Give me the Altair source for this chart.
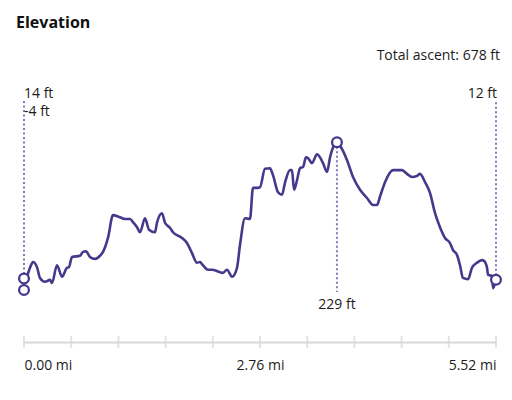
import altair as alt
import pandas as pd

# Elevation profile: distance along the route (mi) and elevation (ft)
DIST = [0.00, 0.035, 0.07, 0.105, 0.152, 0.187, 0.246, 0.304, 0.327, 0.386,
        0.444, 0.503, 0.526, 0.561, 0.655, 0.690, 0.725, 0.772, 0.830, 0.889,
        0.924, 0.982, 1.041, 1.099, 1.181, 1.240, 1.275, 1.322, 1.357, 1.415,
        1.462, 1.532, 1.555, 1.614, 1.649, 1.707, 1.743, 1.848, 1.906, 1.965,
        2.023, 2.058, 2.093, 2.152, 2.199, 2.292, 2.327, 2.374, 2.433, 2.491,
        2.526, 2.585, 2.643, 2.678, 2.725, 2.760, 2.818, 2.877, 2.912, 2.971,
        3.017, 3.052, 3.111, 3.134, 3.158, 3.193, 3.228, 3.263, 3.298, 3.321,
        3.368, 3.427, 3.462, 3.497, 3.544, 3.579, 3.660, 3.707, 3.777, 3.848,
        3.930, 4.011, 4.082, 4.128, 4.163, 4.222, 4.316, 4.421, 4.479, 4.538,
        4.596, 4.631, 4.690, 4.748, 4.807, 4.865, 4.924, 4.982, 5.017, 5.064,
        5.099, 5.134, 5.193, 5.239, 5.298, 5.356, 5.380, 5.415, 5.427, 5.473,
        5.485, 5.52]
ELEV = [14, 18, 31, 40, 32, 15, 9, 12, 7, 35,
        17, 31, 32, 48, 50, 56, 57, 48, 45, 50,
        56, 78, 114, 112, 108, 108, 103, 95, 87, 109,
        91, 87, 102, 117, 102, 94, 87, 78, 70, 54,
        39, 40, 35, 28, 28, 24, 23, 28, 17, 31,
        67, 109, 108, 157, 157, 158, 187, 188, 177, 150,
        146, 165, 185, 185, 154, 169, 188, 190, 205, 204,
        196, 210, 205, 196, 182, 205, 229, 221, 201, 174,
        154, 141, 130, 130, 143, 166, 185, 185, 179, 174,
        176, 179, 166, 149, 117, 95, 78, 70, 59, 51,
        35, 15, 13, 31, 39, 43, 42, 31, 20, 18,
        -1, 12]

# Highlighted points: start, minimum, maximum, end
MARK_NAMES = ["start", "min", "max", "end"]
MARK_DIST = [0.0, 0.0, 3.66, 5.52]
MARK_ELEV = [14, -4, 229, 12]

TITLE = "Elevation"
TOTAL_ASCENT = 678
ROUTE_LENGTH = 5.52
AXIS_LABELS = [0.0, 2.76, 5.52]
TICK_MILES = [0.0, 0.552, 1.104, 1.656, 2.208, 2.76, 3.312, 3.864, 4.416, 4.968, 5.52]

LINE = "#45398c"
DOTS = "#8478bd"
AXIS = "#dad7d4"
INK = "#1c1c1c"
FONT = "Open Sans"
FS = 14

profile = pd.DataFrame({"mi": DIST, "ft": ELEV})
marks = pd.DataFrame({"name": MARK_NAMES, "mi": MARK_DIST, "ft": MARK_ELEV})
marks["label"] = marks["ft"].astype(str) + " ft"
ticks = pd.DataFrame({"mi": TICK_MILES})

x_scale = alt.Scale(domain=[0, ROUTE_LENGTH], nice=False, zero=False)
y_scale = alt.Scale(domain=[-86, 327], nice=False, zero=False)

x_axis = alt.Axis(values=AXIS_LABELS, format=".2f",
                  labelExpr="datum.label + ' mi'",
                  labelFlush=True, ticks=False, grid=False,
                  domainColor=AXIS, domainWidth=2,
                  labelFontSize=FS, labelFont=FONT,
                  labelColor=INK, labelPadding=16)
x_enc = alt.X("mi:Q", scale=x_scale, title=None, axis=x_axis)
y_enc = alt.Y("ft:Q", scale=y_scale, title=None, axis=None)

line = alt.Chart(profile).mark_line(
    color=LINE, strokeWidth=2.6, interpolate="monotone"
).encode(x=x_enc, y=y_enc)

# crossing ticks on the distance axis
axis_ticks = alt.Chart(ticks).mark_tick(
    orient="vertical", color=AXIS, thickness=2, size=12
).encode(x=x_enc, y=alt.value(262))

# dotted leaders from the marked points to their labels
start_end = marks[marks["name"].isin(["start", "end"])]
leaders_top = alt.Chart(start_end).mark_rule(
    color=DOTS, strokeWidth=2, strokeDash=[2, 2.5]
).encode(x=x_enc, y=y_enc, y2=alt.value(21))

leader_max = alt.Chart(marks[marks["name"] == "max"]).mark_rule(
    color=DOTS, strokeWidth=2, strokeDash=[2, 2.5]
).encode(x=x_enc, y=y_enc, y2=alt.value(212))

points = alt.Chart(marks).mark_point(
    shape="circle", size=95, filled=True, fill="white", stroke=LINE, strokeWidth=2.3, opacity=1
).encode(x=x_enc, y=y_enc)

text_style = dict(font=FONT, fontSize=FS, color=INK, baseline="middle")

label_start = alt.Chart(marks[marks["name"] == "start"]).mark_text(
    align="left", dx=0, **text_style
).encode(x=x_enc, y=alt.value(14), text="label:N")

label_min = alt.Chart(marks[marks["name"] == "min"]).mark_text(
    align="left", dx=0, **text_style
).encode(x=x_enc, y=alt.value(32), text="label:N")

label_end = alt.Chart(marks[marks["name"] == "end"]).mark_text(
    align="right", dx=1, **text_style
).encode(x=x_enc, y=alt.value(14), text="label:N")

label_max = alt.Chart(marks[marks["name"] == "max"]).mark_text(
    align="center", **text_style
).encode(x=x_enc, y=alt.value(225), text="label:N")

ascent = alt.Chart(pd.DataFrame({"mi": [ROUTE_LENGTH],
                                 "text": [f"Total ascent: {TOTAL_ASCENT} ft"]})).mark_text(
    align="right", dx=4, **text_style
).encode(x=x_enc, y=alt.value(-24), text="text:N")

# heading in the top-left corner
heading = alt.Chart(pd.DataFrame({"text": [TITLE]})).mark_text(
    align="left", baseline="middle", font=FONT, fontSize=16, fontWeight="bold", color="#111111"
).encode(x=alt.value(-8), y=alt.value(-57), text="text:N")

chart = alt.layer(
    axis_ticks, leaders_top, leader_max, line, points,
    label_start, label_min, label_end, label_max, ascent, heading
).properties(
    width=472, height=262,
    autosize=alt.AutoSizeParams(type="none"),
    padding={"left": 24, "top": 80, "right": 16, "bottom": 58},
).configure_view(stroke=None)

chart.save("out.html", embed_options={"renderer": "svg", "actions": False})
